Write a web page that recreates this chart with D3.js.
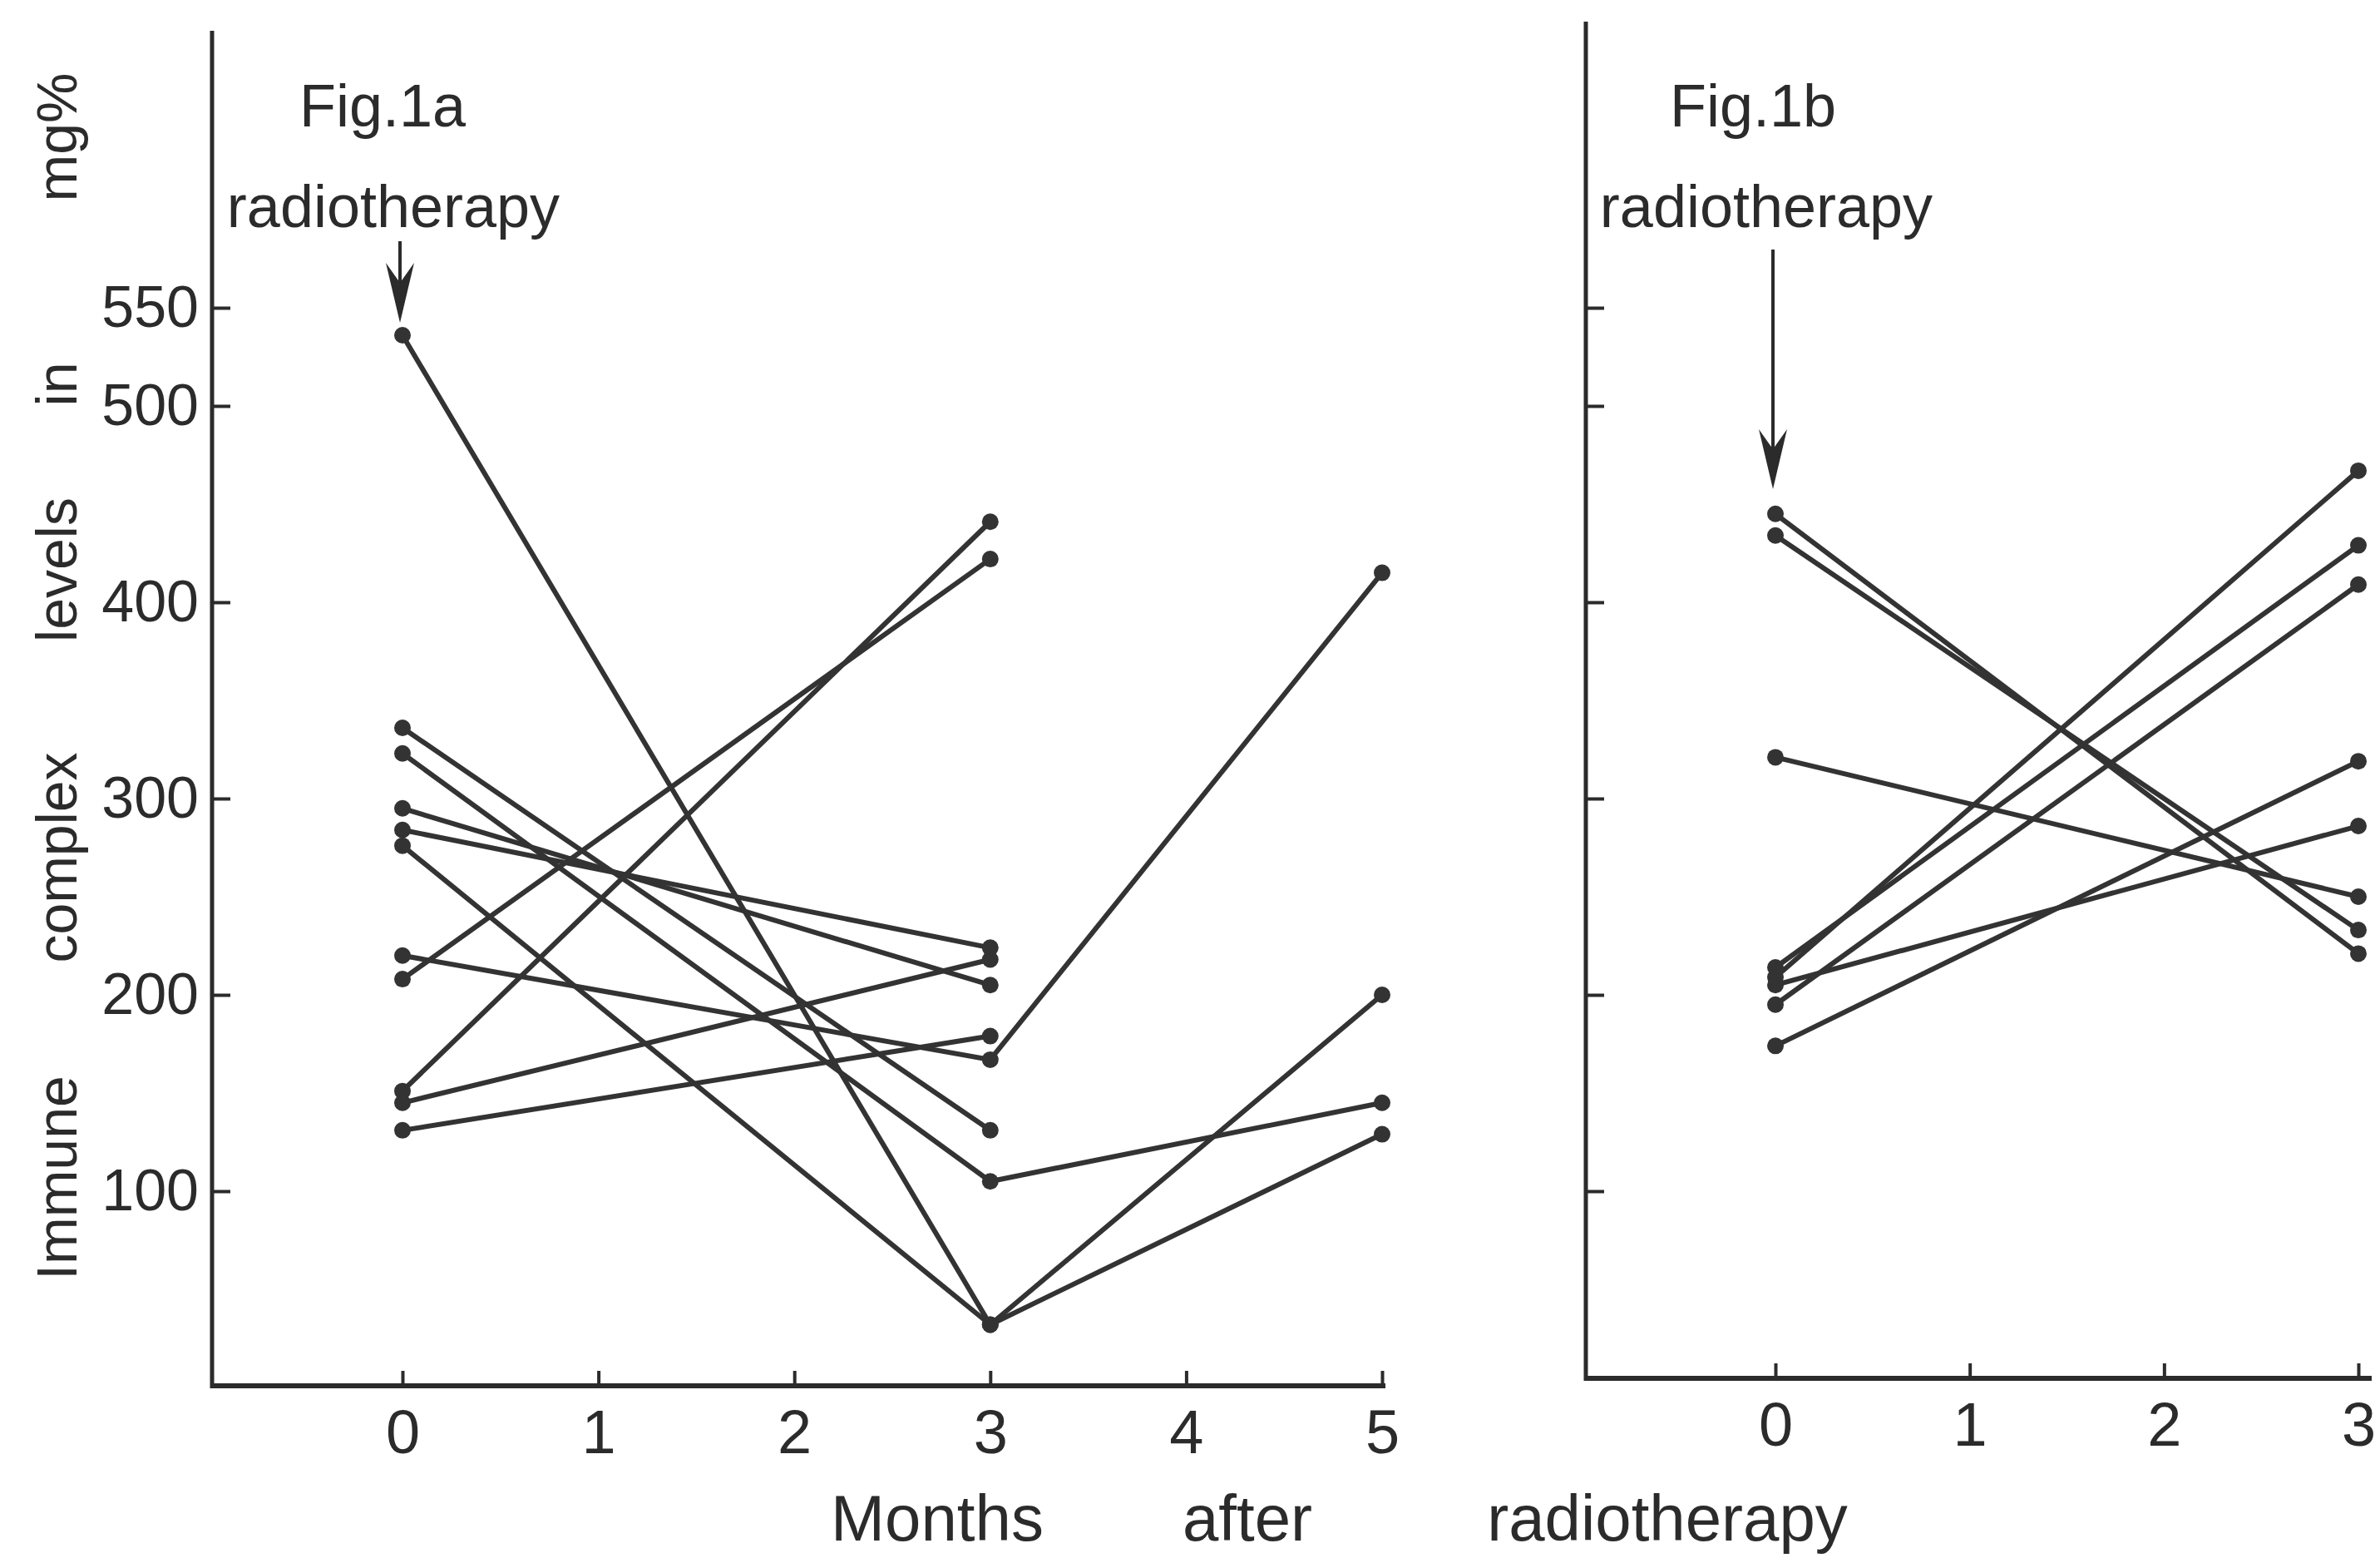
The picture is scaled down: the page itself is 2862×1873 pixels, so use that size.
<!DOCTYPE html>
<html>
<head>
<meta charset="utf-8">
<script src="https://cdn.jsdelivr.net/npm/d3@7"></script>
<style>
  body { margin: 0; background: #fff; }
  text { font-family: "Liberation Sans", Arial, sans-serif; fill: #2b2b2b; }
</style>
</head>
<body>
<div id="chart"></div>
<script>
// months after radiotherapy at which the samples were taken
const monthsA = [0, 3, 5];
const monthsB = [0, 3];

// Fig.1a - one array per patient, immune complex level (mg%) by month
const patientsA = [
  [536, 32, 129],
  [336, 131],
  [323, 105, 145],
  [295, 205],
  [284, 224],
  [276, 32, 200],
  [220, 167, 415],
  [208, 422],
  [151, 441],
  [145, 218],
  [131, 179]
];

// Fig.1b
const patientsB = [
  [445, 221],
  [434, 233],
  [321, 250],
  [214, 429],
  [209, 467],
  [205, 286],
  [195, 409],
  [174, 319]
];

const yTicks = [100, 200, 300, 400, 500, 550];
const xTicksA = [0, 1, 2, 3, 4, 5];
const xTicksB = [0, 1, 2, 3];
const yTitleWords = ["Immune", "complex", "levels", "in", "mg%"];
const xTitleWords = ["Months", "after", "radiotherapy"];

let width = 2862;
let height = 1873;
let ink = "#2b2b2b";

let svg = d3
  .select("#chart")
  .append("svg")
  .attr("width", width)
  .attr("height", height);

svg.append("rect").attr("width", width).attr("height", height).attr("fill", "#fff");

// both panels share the same y scale
var y = d3.scaleLinear().domain([0, 550]).range([1668, 370]);

function drawPanel(p) {
  let g = svg.append("g");

  // Y axis
  var yAxis = d3
    .axisLeft(y)
    .tickValues(yTicks)
    .tickSizeInner(-22)
    .tickSizeOuter(0)
    .tickPadding(16)
    .tickFormat(p.yLabels ? d3.format("d") : "");

  let yg = g
    .append("g")
    .attr("transform", "translate(" + p.axisX + ",0)")
    .call(yAxis);
  yg.select(".domain").remove();
  yg.selectAll(".tick line").attr("stroke", ink).attr("stroke-width", 4);
  yg.selectAll(".tick text")
    .attr("font-size", 70)
    .attr("font-family", "Liberation Sans, Arial, sans-serif")
    .attr("fill", ink);

  g.append("line")
    .attr("x1", p.axisX)
    .attr("x2", p.axisX)
    .attr("y1", p.top)
    .attr("y2", p.baseY + 3)
    .attr("stroke", ink)
    .attr("stroke-width", 5);

  // X axis
  var xAxis = d3
    .axisBottom(p.x)
    .tickValues(p.xTicks)
    .tickSizeInner(-18)
    .tickSizeOuter(0)
    .tickPadding(28)
    .tickFormat(d3.format("d"));

  let xg = g
    .append("g")
    .attr("transform", "translate(0," + p.baseY + ")")
    .call(xAxis);
  xg.select(".domain").remove();
  xg.selectAll(".tick line").attr("stroke", ink).attr("stroke-width", 4);
  xg.selectAll(".tick text")
    .attr("font-size", 74)
    .attr("font-family", "Liberation Sans, Arial, sans-serif")
    .attr("fill", ink);

  g.append("line")
    .attr("x1", p.axisX - 2)
    .attr("x2", p.xEnd)
    .attr("y1", p.baseY)
    .attr("y2", p.baseY)
    .attr("stroke", ink)
    .attr("stroke-width", 6);

  // patient lines
  var line = d3
    .line()
    .x(function(d, i) {
      return p.x(p.months[i]);
    })
    .y(function(d) {
      return y(d);
    });

  g.selectAll(".patient")
    .data(p.patients)
    .enter()
    .append("path")
    .attr("class", "patient")
    .attr("d", line)
    .attr("fill", "none")
    .attr("stroke", "#333")
    .attr("stroke-width", 6);

  p.patients.forEach(function(vals) {
    g.selectAll(null)
      .data(vals)
      .enter()
      .append("circle")
      .attr("cx", function(d, i) {
        return p.x(p.months[i]);
      })
      .attr("cy", function(d) {
        return y(d);
      })
      .attr("r", 10)
      .attr("fill", "#333");
  });

  // figure caption + radiotherapy arrow
  g.append("text")
    .attr("x", p.figX)
    .attr("y", 152)
    .attr("font-size", 72)
    .text(p.fig);

  g.append("text")
    .attr("x", p.arrowX - 8)
    .attr("y", 273)
    .attr("text-anchor", "middle")
    .attr("font-size", 72)
    .text("radiotherapy");

  let ax = p.arrowX;
  g.append("line")
    .attr("x1", ax)
    .attr("x2", ax)
    .attr("y1", p.arrowTop)
    .attr("y2", p.arrowTip - 20)
    .attr("stroke", ink)
    .attr("stroke-width", 4);

  g.append("path")
    .attr(
      "d",
      "M" + ax + "," + p.arrowTip +
      "L" + (ax - 17) + "," + (p.arrowTip - 72) +
      "L" + ax + "," + (p.arrowTip - 48) +
      "L" + (ax + 17) + "," + (p.arrowTip - 72) + "Z"
    )
    .attr("fill", ink);
}

drawPanel({
  axisX: 255,
  top: 37,
  baseY: 1666,
  xEnd: 1666,
  x: d3.scaleLinear().domain([0, 5]).range([484, 1662]),
  xTicks: xTicksA,
  months: monthsA,
  patients: patientsA,
  yLabels: true,
  fig: "Fig.1a",
  figX: 360,
  arrowX: 481,
  arrowTop: 290,
  arrowTip: 388
});

drawPanel({
  axisX: 1907,
  top: 26,
  baseY: 1657,
  xEnd: 2852,
  x: d3.scaleLinear().domain([0, 3]).range([2135, 2836]),
  xTicks: xTicksB,
  months: monthsB,
  patients: patientsB,
  yLabels: false,
  fig: "Fig.1b",
  figX: 2008,
  arrowX: 2132,
  arrowTop: 300,
  arrowTip: 588
});

// rotated y title, words spread along the axis
var yTitlePos = [1416, 1031, 685, 462, 165];
svg.selectAll(".ytitle")
  .data(yTitleWords)
  .enter()
  .append("text")
  .attr("class", "ytitle")
  .attr("transform", function(d, i) {
    return "translate(92," + yTitlePos[i] + ") rotate(-90)";
  })
  .attr("text-anchor", "middle")
  .attr("font-size", 68)
  .text(function(d) {
    return d;
  });

// x title, words spread across both panels
var xTitlePos = [1127, 1500, 2005];
svg.selectAll(".xtitle")
  .data(xTitleWords)
  .enter()
  .append("text")
  .attr("class", "xtitle")
  .attr("x", function(d, i) {
    return xTitlePos[i];
  })
  .attr("y", 1852)
  .attr("text-anchor", "middle")
  .attr("font-size", 78)
  .text(function(d) {
    return d;
  });
</script>
</body>
</html>
